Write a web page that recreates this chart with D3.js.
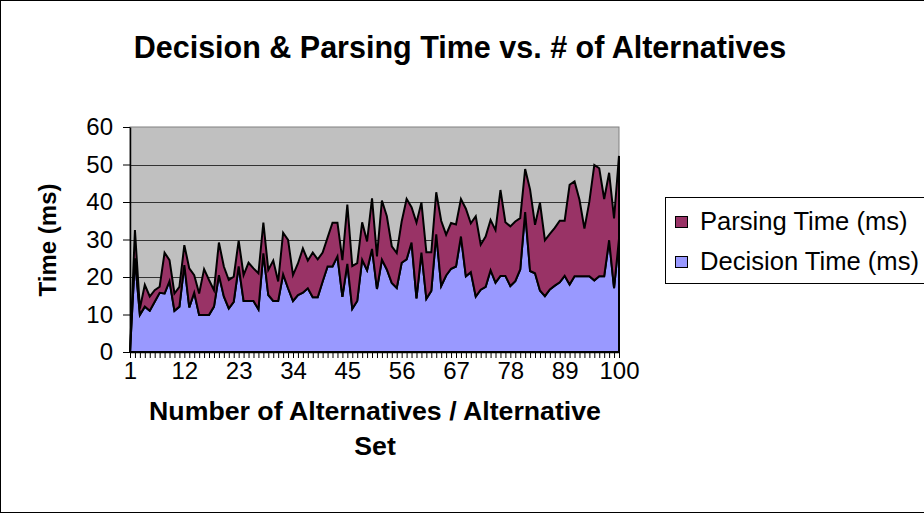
<!DOCTYPE html>
<html>
<head>
<meta charset="utf-8">
<script src="https://cdn.jsdelivr.net/npm/d3@7/dist/d3.min.js"></script>
<style>
  body { margin: 0; background: #fff; }
  svg { display: block; font-family: Arial, "Liberation Sans", sans-serif; }
</style>
</head>
<body>
<svg id="chart" width="924" height="514"></svg>
<script>
// categories 1..100 (one per alternative set)
const categories = d3.range(1, 101);
const xTickLabels = [1, 12, 23, 34, 45, 56, 67, 78, 89, 100];
const yTicks = [0, 10, 20, 30, 40, 50, 60];

const decisionTime = [
  0, 25, 9.9, 12.1, 11.0, 13.4, 15.8, 15.6, 18.9, 11.0,
  12.1, 23.2, 11.9, 15.8, 9.9, 9.9, 9.9, 12.1, 20.5, 14.8,
  11.6, 13.4, 22.8, 13.6, 13.6, 13.6, 11.4, 26.3, 15.2, 13.6,
  13.6, 20.7, 17.0, 13.6, 15.2, 15.8, 17.0, 14.6, 14.6, 18.8,
  22.8, 22.8, 25.5, 14.7, 23.5, 11.5, 13.6, 24.6, 21.8, 27.5,
  16.8, 24.6, 22.0, 18.4, 17.1, 23.8, 24.7, 29.2, 14.3, 26.5,
  14.2, 16.3, 31.4, 17.6, 20.4, 22.2, 22.8, 30.8, 20.2, 21.3,
  14.8, 16.6, 17.4, 21.8, 18.5, 20.3, 20.3, 17.6, 18.9, 22.0,
  37.3, 21.6, 21.0, 16.4, 14.9, 16.7, 17.7, 18.6, 20.3, 18.0,
  20.2, 20.2, 20.2, 20.2, 19.1, 20.2, 20.2, 29.8, 17.0, 30.2
];

const parsingTime = [
  0, 7.5, 1.7, 5.8, 3.8, 3.1, 1.6, 10.9, 5.6, 4.6,
  5.3, 5.3, 10.4, 4.7, 5.7, 12.2, 9.3, 4.4, 8.7, 8.0,
  7.6, 6.7, 6.9, 6.9, 10.2, 8.7, 9.6, 8.2, 6.7, 10.8,
  5.2, 11.1, 12.9, 6.9, 8.4, 11.8, 7.4, 11.9, 10.1, 7.7,
  7.7, 11.7, 9.0, 9.8, 15.8, 11.4, 10.1, 10.0, 7.7, 13.5,
  8.7, 15.8, 14.2, 9.8, 9.3, 11.0, 16.1, 9.4, 20.2, 13.4,
  12.4, 10.3, 11.2, 17.4, 10.9, 12.2, 11.2, 10.0, 18.0, 13.0,
  21.4, 12.0, 13.4, 13.4, 14.0, 22.9, 14.3, 15.9, 15.9, 13.7,
  11.5, 21.7, 12.9, 23.4, 14.9, 14.8, 15.4, 16.4, 14.7, 26.6,
  25.3, 20.4, 12.7, 19.9, 30.8, 28.8, 20.6, 18.0, 18.6, 22.1
];

const seriesKeys = ['decision', 'parsing'];
const seriesNames = { decision: 'Decision Time (ms)', parsing: 'Parsing Time (ms)' };
const seriesColors = { decision: '#9999FF', parsing: '#993366' };
const legendOrder = ['parsing', 'decision'];

let svg, x, y;
const plot = { left: 130, right: 619, top: 127, bottom: 352 };

function drawFrame() {
  svg.append('rect')
    .attr('x', 0.5).attr('y', 0.5)
    .attr('width', 940).attr('height', 512)
    .attr('fill', '#fff').attr('stroke', '#000');

  svg.append('text')
    .attr('x', 460).attr('y', 58)
    .attr('text-anchor', 'middle')
    .attr('font-size', 30.5).attr('font-weight', 'bold')
    .text('Decision & Parsing Time vs. # of Alternatives');
}

function drawPlotBack() {
  svg.append('rect')
    .attr('x', plot.left).attr('y', plot.top)
    .attr('width', plot.right - plot.left).attr('height', plot.bottom - plot.top)
    .attr('fill', '#C0C0C0').attr('stroke', '#808080');

  svg.append('g').selectAll('line')
    .data(yTicks.filter(d => d > 0 && d < 60))
    .join('line')
    .attr('x1', plot.left).attr('x2', plot.right)
    .attr('y1', d => Math.round(y(d)) + 0.5).attr('y2', d => Math.round(y(d)) + 0.5)
    .attr('stroke', '#333');
}

function drawAreas() {
  const rows = categories.map((c, i) => ({
    cat: c, decision: decisionTime[i], parsing: parsingTime[i]
  }));
  const stacked = d3.stack().keys(seriesKeys)(rows);

  const area = d3.area()
    .x(d => x(d.data.cat))
    .y0(d => y(d[0]))
    .y1(d => y(d[1]));

  svg.append('g').selectAll('path')
    .data(stacked)
    .join('path')
    .attr('d', area)
    .attr('fill', d => seriesColors[d.key])
    .attr('stroke', '#000')
    .attr('stroke-width', 2);
}

function drawAxes() {
  const xAxis = d3.axisBottom(x)
    .tickValues(categories)
    .tickFormat(d => xTickLabels.includes(d) ? d : '')
    .tickSize(6).tickSizeOuter(0).tickPadding(4);

  const gx = svg.append('g')
    .attr('transform', `translate(0,${plot.bottom})`)
    .call(xAxis);
  gx.attr('font-size', 24).attr('font-family', null);
  gx.select('.domain').attr('stroke-width', 1.5);

  const yAxis = d3.axisLeft(y)
    .tickValues(yTicks)
    .tickSize(7).tickSizeOuter(0).tickPadding(10);

  const gy = svg.append('g')
    .attr('transform', `translate(${plot.left},0)`)
    .call(yAxis);
  gy.attr('font-size', 24).attr('font-family', null);
  gy.select('.domain').attr('stroke-width', 1.5);

  svg.append('text')
    .attr('transform', 'translate(56,240) rotate(-90)')
    .attr('text-anchor', 'middle')
    .attr('font-size', 24).attr('font-weight', 'bold')
    .text('Time (ms)');

  const xt = svg.append('text')
    .attr('text-anchor', 'middle')
    .attr('font-size', 26.7).attr('font-weight', 'bold');
  xt.append('tspan').attr('x', 375).attr('y', 420).text('Number of Alternatives / Alternative');
  xt.append('tspan').attr('x', 375).attr('y', 455).text('Set');
}

function drawLegend() {
  const lg = svg.append('g').attr('transform', 'translate(665,197)');
  lg.append('rect')
    .attr('x', 0.5).attr('y', 0.5)
    .attr('width', 300).attr('height', 86)
    .attr('fill', '#fff').attr('stroke', '#000');

  const item = lg.selectAll('g.item')
    .data(legendOrder)
    .join('g')
    .attr('class', 'item')
    .attr('transform', (d, i) => `translate(0,${24 + i * 40})`);

  item.append('rect')
    .attr('x', 10.5).attr('y', -4.5)
    .attr('width', 12).attr('height', 11)
    .attr('fill', d => seriesColors[d])
    .attr('stroke', '#000');

  item.append('text')
    .attr('x', 35).attr('y', 9)
    .attr('font-size', 25.6)
    .text(d => seriesNames[d]);
}

function setup() {
  svg = d3.select('#chart');
  x = d3.scalePoint().domain(categories).range([plot.left, plot.right]);
  y = d3.scaleLinear().domain([0, 60]).range([plot.bottom, plot.top]);

  drawFrame();
  drawPlotBack();
  drawAreas();
  drawAxes();
  drawLegend();
}

setup();
</script>
</body>
</html>
